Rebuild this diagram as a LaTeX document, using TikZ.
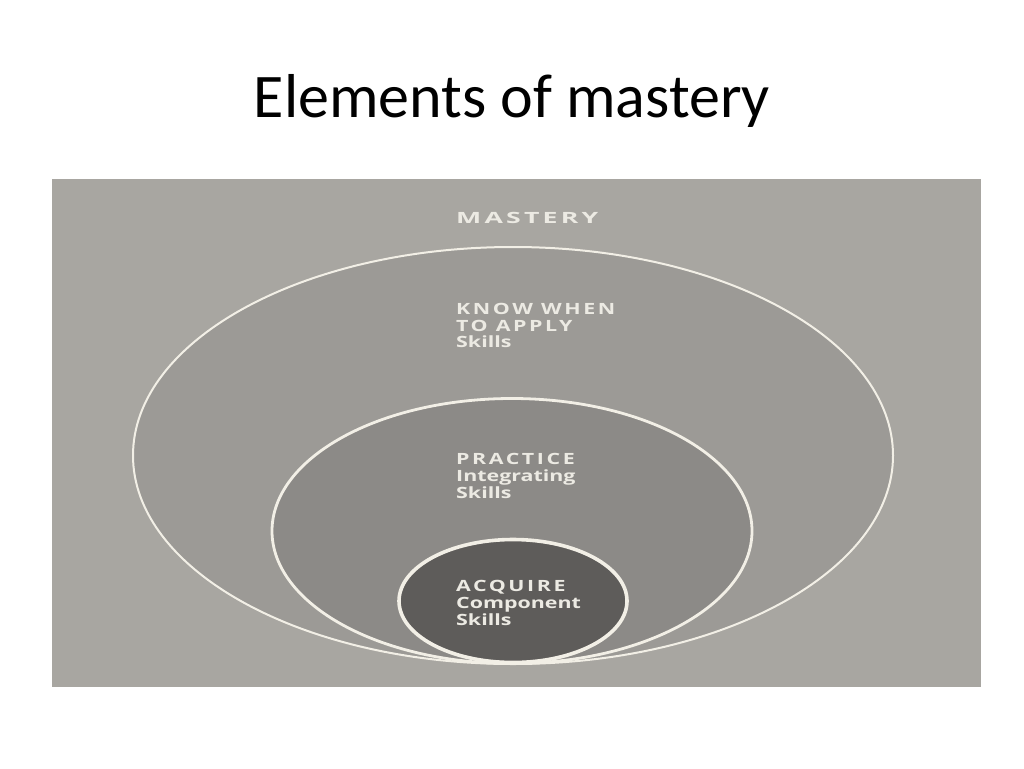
\documentclass[tikz,border=0pt]{standalone}
\usepackage{graphicx}
\usepackage{fontspec}
\setmainfont{Carlito}
\newfontfamily\labfont{Open Sans}
\newfontfamily\labfontcaps{Open Sans}[LetterSpace=12]
\newcommand\widetext[1]{\scalebox{1.38}[1]{#1}}
\newcommand\widertext[1]{\scalebox{1.72}[1]{#1}}
\definecolor{bggray}{HTML}{A8A6A1}
\definecolor{outergray}{HTML}{9C9A96}
\definecolor{midgray}{HTML}{8C8A87}
\definecolor{innergray}{HTML}{5E5C5A}
\definecolor{linecream}{HTML}{F2EFE6}
\definecolor{textcream}{HTML}{ECEAE3}
\begin{document}
\begin{tikzpicture}[x=1pt,y=-1pt,
  caps/.style={anchor=base west,inner sep=0pt,text=textcream,font=\labfontcaps\bfseries\fontsize{15.5}{18}\selectfont},
  lower/.style={anchor=base west,inner sep=0pt,text=textcream,font=\labfont\bfseries\fontsize{15.5}{18}\selectfont},
  ring/.style={draw=linecream}]
\useasboundingbox (0,0) rectangle (1024,768);
\fill[white] (0,0) rectangle (1024,768);
\node[anchor=base,inner sep=0pt,font=\fontsize{62}{70}\selectfont] (title) at (512,117) {Elements of mastery};
\fill[bggray] (52,179) rectangle (981,687);
\path[ring,fill=outergray,line width=2pt] (513,455.5) ellipse [x radius=380, y radius=208.5];
\path[ring,fill=midgray,line width=2.8pt] (512,531) ellipse [x radius=240, y radius=132.5];
\path[ring,fill=innergray,line width=3.6pt] (513,601) ellipse [x radius=114, y radius=61.5];
\node[caps] (mastery) at (456,223) {\widertext{MASTERY}};
\node[caps] (know) at (456,314) {\widetext{KNOW WHEN}};
\node[caps] (toapply) at (456,331) {\widetext{TO APPLY}};
\node[lower] (skillsA) at (456,347) {\widetext{Skills}};
\node[caps] (practice) at (456,464) {\widetext{PRACTICE}};
\node[lower] (integrating) at (456,481) {\widetext{Integrating}};
\node[lower] (skillsB) at (456,498) {\widetext{Skills}};
\node[caps] (acquire) at (456,591) {\widetext{ACQUIRE}};
\node[lower] (component) at (456,608) {\widetext{Component}};
\node[lower] (skillsC) at (456,625) {\widetext{Skills}};
\end{tikzpicture}
\end{document}
